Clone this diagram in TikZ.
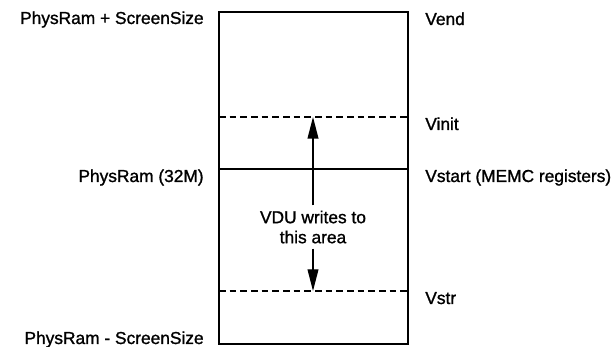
\documentclass[tikz,border=0pt]{standalone}
\usepackage{fontspec}
\setmainfont{Liberation Sans}[BoldFont={Liberation Sans}, BoldFeatures={FakeBold=1.2}]
\usetikzlibrary{arrows.meta,calc}

\begin{document}
\begin{tikzpicture}[x=0.6pt, y=-0.6pt,
    memlabel/.style={font=\fontsize{10.4}{12}\selectfont\bfseries, inner sep=0pt},
    lefttag/.style={memlabel, anchor=base east},
    righttag/.style={memlabel, anchor=base west},
    dashline/.style={line width=0.7pt, dash pattern=on 4pt off 2.4pt},
    vduarrow/.style={line width=0.8pt, -{Triangle[length=13pt,width=6.5pt]}}]
    \useasboundingbox (0,0) rectangle (614,347);

    % Screen memory block
    \draw[line width=0.9pt] (219,12) rectangle (408,344);
    \draw[line width=0.8pt] (219,169) -- (408,169);

    % Vinit and Vstr limits
    \foreach \y/\name in {117/vinit, 291/vstr} {
        \draw[dashline] (219,\y) -- (408,\y);
        \coordinate (\name) at (313,\y);
    }

    % Physical addresses on the left
    \foreach \y/\txt/\name in {
        24/{PhysRam + ScreenSize}/ptop,
        182/{PhysRam (32M)}/pmid,
        344/{PhysRam - ScreenSize}/pbot
    } {
        \node[lefttag] (\name) at (204,\y) {\txt};
    }

    % Video pointers on the right
    \foreach \y/\txt/\name in {
        25/{Vend}/vend,
        130/{Vinit}/vinittag,
        182/{Vstart (MEMC registers)}/vstart,
        304/{Vstr}/vstrtag
    } {
        \node[righttag] (\name) at (425,\y) {\txt};
    }

    % Area written by the VDU
    \node[memlabel, inner ysep=3pt, align=center] (vdu) at (313,227)
        {VDU writes to\\this area};
    \draw[vduarrow] (vdu.north) -- (vinit);
    \draw[vduarrow] (vdu.south) -- (vstr);
\end{tikzpicture}
\end{document}
